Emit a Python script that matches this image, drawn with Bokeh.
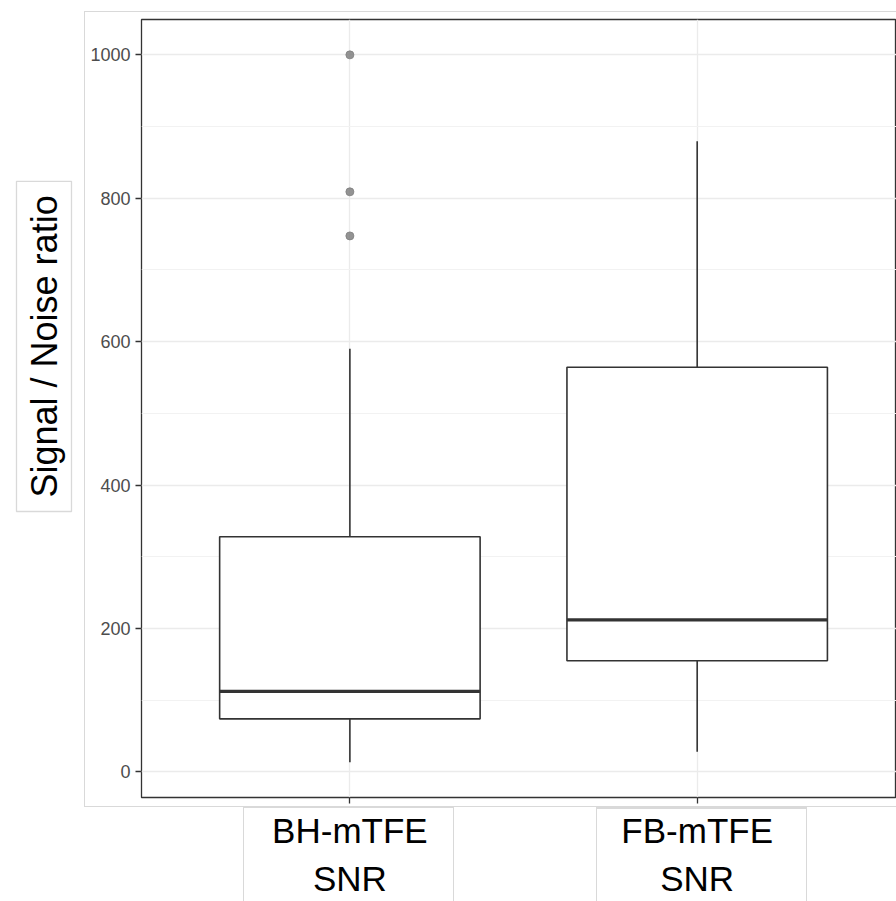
import numpy as np
from bokeh.plotting import figure
from bokeh.models import (FixedTicker, SingleIntervalTicker, ColumnDataSource, Title, InlineStyleSheet)
from bokeh.embed import file_html
from bokeh.resources import INLINE

# ---- data ----
categories = ["BH-mTFE\nSNR", "FB-mTFE\nSNR"]
lower_whisker = [13.6, 28.0]
q1 = [74.0, 155.0]
median = [112.4, 212.0]
q3 = [327.9, 564.3]
upper_whisker = [590.0, 879.6]
outlier_group = [1, 1, 1]
outlier_value = [1000.0, 809.0, 747.5]
y_title = "Signal / Noise ratio"

xpos = [i + 1 for i in range(len(categories))]
box_w = 0.75

all_vals = lower_whisker + upper_whisker + outlier_value
ymin, ymax = min(all_vals), max(all_vals)
pad = 0.05 * (ymax - ymin)

W, H = 896, 901
css = """
:host::before { content:""; position:absolute; left:84px; top:11px; width:812px; height:796px;
  border:1px solid #d9d9d9; border-right:none; box-sizing:border-box; z-index:-1; pointer-events:none; }
:host::after { content:""; position:absolute; left:243px; top:807px; width:211px; height:94px;
  border:1px solid #d9d9d9; border-bottom:none; box-sizing:border-box; z-index:-1; pointer-events:none;
  box-shadow: 353px 1px 0 -1px #ffffff, 353px 0 0 0 #d9d9d9; }
"""
p = figure(width=W, height=H, output_backend="svg", toolbar_location=None,
           x_range=(0.4, 0.4 + 755 / 347.3), y_range=(ymin - pad, ymax + pad),
           min_border_left=141, min_border_right=0, min_border_top=19, min_border_bottom=103)
p.stylesheets = [InlineStyleSheet(css=css)]
p.background_fill_color = "white"
p.border_fill_color = None
p.outline_line_color = "#333333"
p.outline_line_width = 1.3

# x axis: category names as tick labels
p.xaxis.ticker = FixedTicker(ticks=xpos)
p.xaxis.major_label_overrides = {x: c for x, c in zip(xpos, categories)}
p.xaxis.major_label_text_font = "Liberation Sans"
p.xaxis.major_label_text_font_size = "35px"
p.xaxis.major_label_text_color = "black"
p.xaxis.major_label_text_line_height = 1.25
p.xaxis.major_label_standoff = 7
p.xaxis.axis_line_color = None
p.xaxis.major_tick_line_color = "#333333"
p.xaxis.major_tick_line_width = 1.3
p.xaxis.major_tick_out = 6
p.xaxis.major_tick_in = 0
p.xaxis.minor_tick_line_color = None

p.yaxis.ticker = SingleIntervalTicker(interval=200, num_minor_ticks=2)
p.yaxis.axis_line_color = None
p.yaxis.major_tick_line_color = "#333333"
p.yaxis.major_tick_line_width = 1.3
p.yaxis.major_tick_out = 6
p.yaxis.major_tick_in = 0
p.yaxis.minor_tick_line_color = None
p.yaxis.major_label_text_font = "Liberation Sans"
p.yaxis.major_label_text_font_size = "18px"
p.yaxis.major_label_text_color = "#4d4d4d"
p.yaxis.major_label_standoff = 5

p.xgrid.ticker = FixedTicker(ticks=xpos)
p.xgrid.grid_line_color = "#ebebeb"
p.xgrid.grid_line_width = 1.3
p.ygrid.grid_line_color = "#ebebeb"
p.ygrid.grid_line_width = 1.3
p.ygrid.minor_grid_line_color = "#f2f2f2"
p.ygrid.minor_grid_line_width = 1.0

# boxes, whiskers, medians, outliers
src = ColumnDataSource(dict(x=xpos, lw=lower_whisker, q1=q1, med=median, q3=q3, uw=upper_whisker,
                            left=[x - box_w / 2 for x in xpos], right=[x + box_w / 2 for x in xpos]))
p.segment(x0="x", y0="q3", x1="x", y1="uw", source=src, line_color="#333333", line_width=1.6)
p.segment(x0="x", y0="lw", x1="x", y1="q1", source=src, line_color="#333333", line_width=1.6)
p.quad(left="left", right="right", bottom="q1", top="q3", source=src,
       fill_color="white", line_color="#333333", line_width=1.6)
p.segment(x0="left", y0="med", x1="right", y1="med", source=src, line_color="#333333", line_width=3.2)
p.scatter(x=outlier_group, y=outlier_value, size=8, fill_color="#808080", line_color="#808080", alpha=0.85)

# y title in a light box, left side
t = Title(text=y_title, align="left", offset=286, standoff=0, vertical_align="top",
          text_font="Liberation Sans", text_font_size="36px", text_font_style="normal", text_color="black",
          border_line_color="#d9d9d9", border_line_width=1.3, background_fill_color="white",
          padding=(14, 7))
p.add_layout(t, "left")

open("out.html", "w").write(file_html(p, INLINE))
